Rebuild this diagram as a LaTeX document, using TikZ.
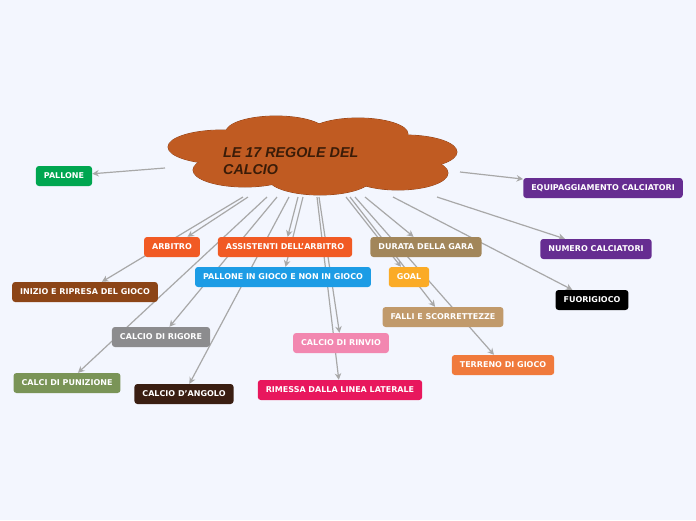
\documentclass[tikz,border=0pt]{standalone}
\usepackage{fontspec}
\setmainfont{DejaVu Sans}
\newfontfamily\titlefont{Liberation Sans}
\usetikzlibrary{arrows.meta}

\definecolor{pagebg}{HTML}{F3F6FE}
\definecolor{linkgray}{HTML}{A8A8A8}
\definecolor{cloudfill}{HTML}{C05B22}
\definecolor{cloudline}{HTML}{8A3C12}
\definecolor{titletext}{HTML}{3A1C08}
\definecolor{cgreen}{HTML}{00A650}
\definecolor{corange}{HTML}{F15A24}
\definecolor{cdurata}{HTML}{A2865A}
\definecolor{cblue}{HTML}{1C9CE5}
\definecolor{cgoal}{HTML}{FBAB26}
\definecolor{cinizio}{HTML}{8C4517}
\definecolor{cpurple}{HTML}{662D91}
\definecolor{cfalli}{HTML}{C19A6B}
\definecolor{cgrey}{HTML}{8C8C8E}
\definecolor{cpink}{HTML}{F287B0}
\definecolor{cterreno}{HTML}{F07A3C}
\definecolor{colive}{HTML}{7A9457}
\definecolor{cangolo}{HTML}{3A1E12}
\definecolor{crimessa}{HTML}{E8175D}

\pgfdeclarelayer{back}
\pgfdeclarelayer{links}
\pgfsetlayers{back,links,main}

\begin{document}
\begin{tikzpicture}[x=1pt, y=-1pt, >={Stealth[length=6.5pt,width=6.5pt]},
	topic/.style = {rounded corners=3pt, text=white, font=\fontsize{8}{9}\selectfont\bfseries,
		minimum height=20pt, inner xsep=8pt, inner ysep=0pt},
	link/.style = {->, draw=linkgray, line width=1.2pt}]
	\begin{pgfonlayer}{back}
		\fill [pagebg] (0,0) rectangle (696,520);
	\end{pgfonlayer}
	\useasboundingbox (0,0) rectangle (696,520);

	% central cloud
	\foreach \cx/\cy/\rx/\ry in {222/147/54/17, 276/132/50/16, 358/134/50/16, 405/152/52/17,
		245/170/52/17, 320/178/52/17, 398/173/50/17}
		\draw [cloudline, line width=0.8pt] (\cx,\cy) ellipse [x radius=\rx, y radius=\ry];
	\foreach \cx/\cy/\rx/\ry in {222/147/54/17, 276/132/50/16, 358/134/50/16, 405/152/52/17,
		245/170/52/17, 320/178/52/17, 398/173/50/17, 312/155/90/24}
		\fill [cloudfill] (\cx,\cy) ellipse [x radius=\rx, y radius=\ry];
	\node (title) [anchor=west, align=left, text=titletext, inner sep=0pt,
		font=\titlefont\fontsize{14.3}{16.5}\selectfont\bfseries\itshape] at (223,161) {LE 17 REGOLE DEL\\CALCIO};

	% topics
	\node (pallone) [topic, fill=cgreen] at (64,176) {PALLONE};
	\node (equip) [topic, fill=cpurple] at (603,188) {EQUIPAGGIAMENTO CALCIATORI};
	\node (arbitro) [topic, fill=corange] at (172,247) {ARBITRO};
	\node (assistenti) [topic, fill=corange] at (285,247) {ASSISTENTI DELL'ARBITRO};
	\node (durata) [topic, fill=cdurata] at (426,247) {DURATA DELLA GARA};
	\node (numero) [topic, fill=cpurple] at (596,249) {NUMERO CALCIATORI};
	\node (ingioco) [topic, fill=cblue] at (283,277) {PALLONE IN GIOCO E NON IN GIOCO};
	\node (goal) [topic, fill=cgoal] at (409,277) {GOAL};
	\node (inizio) [topic, fill=cinizio] at (85,292) {INIZIO E RIPRESA DEL GIOCO};
	\node (fuorigioco) [topic, fill=black] at (592,300) {FUORIGIOCO};
	\node (falli) [topic, fill=cfalli] at (443,317) {FALLI E SCORRETTEZZE};
	\node (rigore) [topic, fill=cgrey] at (161,337) {CALCIO DI RIGORE};
	\node (rinvio) [topic, fill=cpink] at (341,343) {CALCIO DI RINVIO};
	\node (terreno) [topic, fill=cterreno] at (503,365) {TERRENO DI GIOCO};
	\node (punizione) [topic, fill=colive] at (67,383) {CALCI DI PUNIZIONE};
	\node (angolo) [topic, fill=cangolo] at (184,394) {CALCIO D'ANGOLO};
	\node (rimessa) [topic, fill=crimessa] at (340,390) {RIMESSA DALLA LINEA LATERALE};

	% connectors from the cloud
	\begin{pgfonlayer}{links}
		\foreach \x/\y/\t in {165/168/pallone, 460/172/equip, 248/197/arbitro, 298/197/assistenti,
			365/197/durata, 437/197/numero, 303/197/ingioco, 346/197/goal, 243/197/inizio,
			393/197/fuorigioco, 350/197/falli, 277/197/rigore, 319/197/rinvio, 355/197/terreno,
			267/197/punizione, 289/197/angolo, 317/197/rimessa} {
			\coordinate (from-\t) at (\x,\y);
			\draw [link] (from-\t) -- (\t);
		}
	\end{pgfonlayer}
\end{tikzpicture}
\end{document}
